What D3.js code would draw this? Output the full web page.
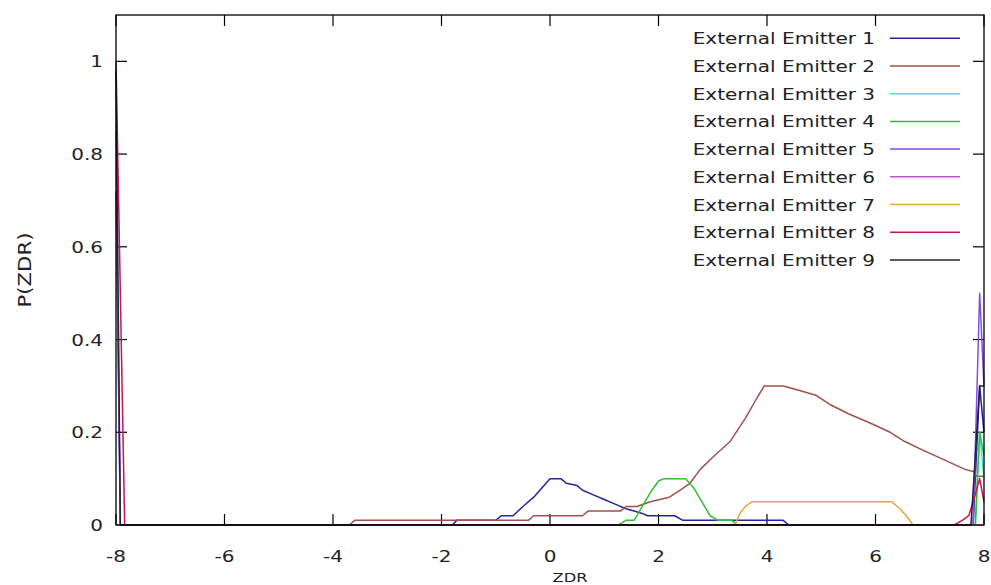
<!DOCTYPE html>
<html><head><meta charset="utf-8">
<script src="https://cdn.jsdelivr.net/npm/d3@7"></script>
<style>html,body{margin:0;padding:0;background:#fff;}svg{display:block;}</style>
</head><body>
<svg id="c" width="991" height="585"></svg>
<script>
// ---- data (x, P) pairs ----
const seriesNames = ["External Emitter 1","External Emitter 2","External Emitter 3","External Emitter 4","External Emitter 5","External Emitter 6","External Emitter 7","External Emitter 8","External Emitter 9"];
const seriesColors = ["#2424a0","#a05050","#40e0e0","#30c030","#8a4ae0","#c050d0","#e0a840","#c81848","#202048"];
const xTicks = [-8,-6,-4,-2,0,2,4,6,8];
const yTicks = [0,0.2,0.4,0.6,0.8,1];
const yTickLabels = ["0","0.2","0.4","0.6","0.8","1"];

const emitter1 = [[-8,0.72],[-7.92,0],[-1.8,0],[-1.72,0.01],[-1.0,0.01],[-0.9,0.02],[-0.68,0.02],[-0.5,0.04],[-0.3,0.06],[-0.15,0.08],[0,0.1],[0.2,0.1],[0.3,0.09],[0.5,0.085],[0.6,0.075],[0.8,0.065],[1.0,0.055],[1.2,0.045],[1.4,0.035],[1.55,0.03],[1.7,0.025],[1.8,0.02],[2.3,0.02],[2.45,0.01],[4.3,0.01],[4.4,0],[7.8,0],[7.92,0.3],[8,0.2]];
const emitter2 = [[-8,0],[-3.7,0],[-3.6,0.01],[-0.4,0.01],[-0.3,0.02],[0.6,0.02],[0.7,0.03],[1.3,0.03],[1.4,0.04],[1.6,0.04],[1.85,0.05],[2.2,0.06],[2.4,0.075],[2.58,0.09],[2.77,0.12],[3.0,0.146],[3.32,0.18],[3.6,0.23],[3.82,0.275],[3.95,0.3],[4.3,0.3],[4.6,0.29],[4.9,0.28],[5.16,0.26],[5.5,0.24],[5.9,0.22],[6.27,0.2],[6.54,0.18],[6.9,0.16],[7.28,0.14],[7.65,0.12],[7.82,0.115],[7.86,0.105],[8,0.105]];
const emitter3 = [[-8,0],[7.84,0],[7.92,0.2],[8,0.1]];
const emitter4 = [[-8,0],[1.26,0],[1.4,0.01],[1.55,0.01],[1.7,0.04],[1.85,0.07],[2.0,0.095],[2.1,0.1],[2.5,0.1],[2.65,0.08],[2.8,0.05],[2.95,0.02],[3.1,0.01],[3.35,0.01],[3.45,0],[7.84,0],[7.92,0.2],[8,0.15]];
const emitter5 = [[-8,0],[7.8,0],[7.92,0.5],[8,0.3]];
const emitter6 = [[-8,0.85],[-7.92,0],[8,0]];
const emitter7 = [[-8,0],[3.41,0],[3.5,0.025],[3.6,0.04],[3.72,0.05],[6.3,0.05],[6.45,0.035],[6.6,0.015],[6.69,0],[8,0]];
const emitter8 = [[-8,1.0],[-7.84,0],[7.45,0],[7.6,0.01],[7.72,0.02],[7.8,0.05],[7.92,0.1],[8,0.05]];
const emitter9 = [[-8,0.98],[-7.92,0],[7.76,0],[7.92,0.3],[8,0.3]];
const allSeries = [emitter1,emitter2,emitter3,emitter4,emitter5,emitter6,emitter7,emitter8,emitter9];

// ---- layout ----
const L = 116, R = 984, T = 15, B = 525;
const FONT = "DejaVu Sans, sans-serif";
const FS = 16, SX = 1.25;
const svg = d3.select("#c");
const x = d3.scaleLinear().domain([-8, 8]).range([L, R]);
const y = d3.scaleLinear().domain([0, 1.1]).range([B, T]);

function stext(g, tx, ty, str, anchor) {
  g.append("text").attr("transform", `translate(${tx},${ty}) scale(${SX},1)`)
    .attr("text-anchor", anchor).attr("font-family", FONT).attr("font-size", FS)
    .attr("fill", "#222").text(str);
}

// ticks (inward, mirrored)
const tk = svg.append("g").attr("stroke", "#000").attr("stroke-width", 1.2);
xTicks.forEach(v => {
  tk.append("line").attr("x1", x(v)).attr("x2", x(v)).attr("y1", B).attr("y2", B - 11);
  tk.append("line").attr("x1", x(v)).attr("x2", x(v)).attr("y1", T).attr("y2", T + 11);
});
yTicks.forEach(v => {
  tk.append("line").attr("x1", L).attr("x2", L + 11).attr("y1", y(v)).attr("y2", y(v));
  tk.append("line").attr("x1", R).attr("x2", R - 11).attr("y1", y(v)).attr("y2", y(v));
});

// tick labels
const lab = svg.append("g");
xTicks.forEach(v => stext(lab, x(v), 562, String(v), "middle"));
yTicks.forEach((v, i) => stext(lab, 103, y(v) + 6, yTickLabels[i], "end"));

// axis titles
svg.append("text").attr("transform", `translate(31,270) rotate(-90)`)
  .attr("text-anchor", "middle").attr("font-family", FONT).attr("font-size", 17)
  .attr("textLength", 75).attr("lengthAdjust", "spacingAndGlyphs")
  .attr("fill", "#222").text("P(ZDR)");
svg.append("text").attr("transform", `translate(${x(0) + 20},582) scale(${SX},1)`)
  .attr("text-anchor", "middle").attr("font-family", FONT).attr("font-size", 13)
  .attr("fill", "#222").text("ZDR");

// curves
const line = d3.line().x(d => x(d[0])).y(d => y(d[1]));
const cg = svg.append("g").attr("fill", "none").attr("stroke-width", 1.5).attr("stroke-linejoin", "round");
allSeries.forEach((s, i) => cg.append("path").attr("d", line(s)).attr("stroke", seriesColors[i]));

// frame
svg.append("rect").attr("x", L).attr("y", T).attr("width", R - L).attr("height", B - T)
  .attr("fill", "none").attr("stroke", "#000").attr("stroke-width", 1.3);

// legend
const lg = svg.append("g");
seriesNames.forEach((n, i) => {
  const cy = 38.3 + i * 27.7;
  stext(lg, 875, cy + 6, n, "end");
  lg.append("line").attr("x1", 890).attr("x2", 960).attr("y1", cy).attr("y2", cy)
    .attr("stroke", seriesColors[i]).attr("stroke-width", 1.5);
});
</script>
</body></html>
